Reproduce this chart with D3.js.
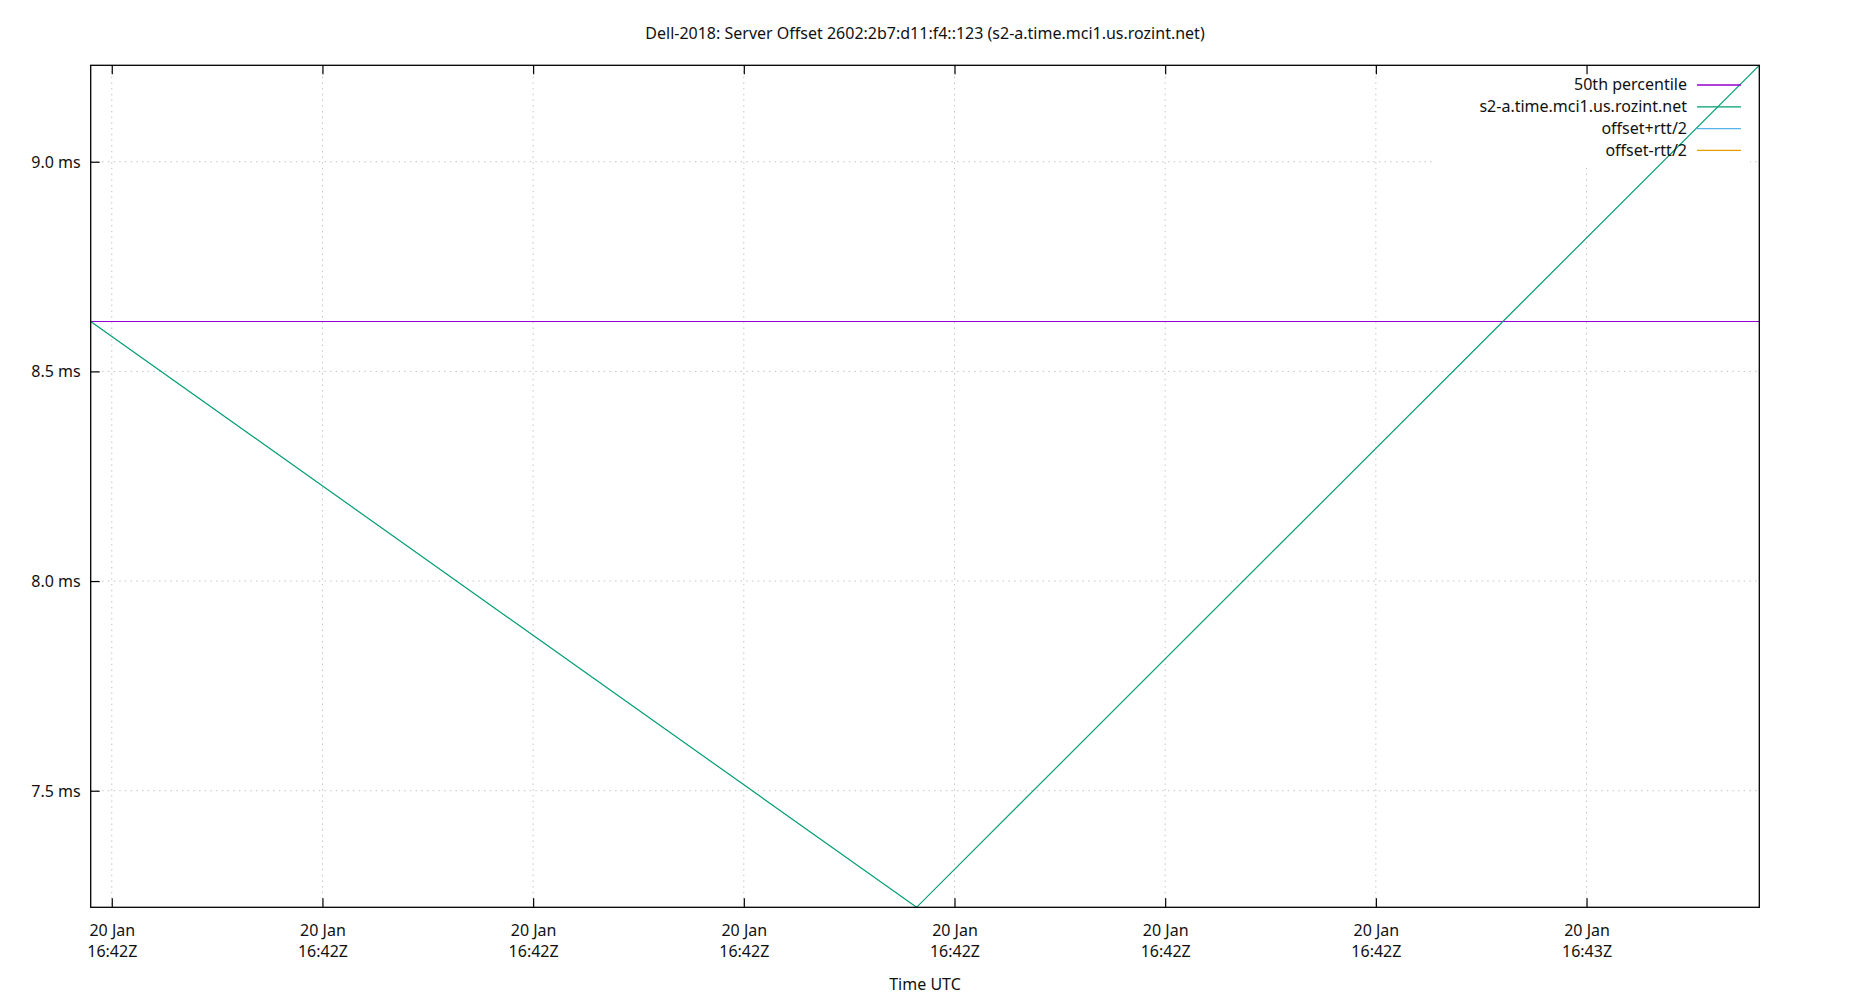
<!DOCTYPE html>
<html lang="en">
<head>
    <meta charset="UTF-8">
    <title>Dell-2018: Server Offset</title>
    <style>
        body { margin: 0; background: #fff; }
        svg text { font-family: "Noto Sans", "Open Sans", sans-serif; font-size: 16px; fill: #111; }
        .grid line { stroke: #c4c4c4; stroke-width: 1; stroke-dasharray: 1.5,4.2; }
        .axis line { stroke: #000; stroke-width: 1.2; }
        .axis path { display: none; }
        .series { fill: none; stroke-width: 1.2; }
    </style>
</head>
<body>
<svg id="chart" width="1850" height="1000"></svg>
<script src="https://d3js.org/d3.v7.min.js"></script>
<script>
// data (times in UTC)
const times = ["2024-01-20T16:42:24.5Z", "2024-01-20T16:42:44.1Z", "2024-01-20T16:43:04.1Z"];
const offsets = [8.619, 7.222, 9.230];          // ms
const median = 8.619;                            // 50th percentile, ms
const xTicks = ["2024-01-20T16:42:25Z", "2024-01-20T16:42:30Z", "2024-01-20T16:42:35Z", "2024-01-20T16:42:40Z",
                "2024-01-20T16:42:45Z", "2024-01-20T16:42:50Z", "2024-01-20T16:42:55Z", "2024-01-20T16:43:00Z"];
const yTicks = [7.5, 8.0, 8.5, 9.0];
const legendItems = ["50th percentile", "s2-a.time.mci1.us.rozint.net", "offset+rtt/2", "offset-rtt/2"];
const legendColors = ["#9400d3", "#009e73", "#56b4e9", "#e69f00"];

const W = 1850, H = 1000;
const m = {left: 90.7, right: 1759.3, top: 65.3, bottom: 907.3};

const svg = d3.select("#chart");
const parse = d3.isoParse;
const pts = times.map((t, i) => ({t: parse(t), v: offsets[i]}));

const x = d3.scaleUtc()
    .domain(d3.extent(pts, d => d.t))
    .range([m.left, m.right]);
const y = d3.scaleLinear()
    .domain(d3.extent(offsets))
    .range([m.bottom, m.top]);

// title
svg.append("text")
    .attr("x", (m.left + m.right) / 2)
    .attr("y", 39)
    .attr("text-anchor", "middle")
    .text("Dell-2018: Server Offset 2602:2b7:d11:f4::123 (s2-a.time.mci1.us.rozint.net)");

// grid
const grid = svg.append("g").attr("class", "grid");
grid.selectAll("line.gx")
    .data(xTicks.map(parse))
    .enter().append("line")
    .attr("x1", d => x(d)).attr("x2", d => x(d))
    .attr("y1", m.top).attr("y2", m.bottom);
grid.selectAll("line.gy")
    .data(yTicks)
    .enter().append("line")
    .attr("x1", m.left).attr("x2", m.right)
    .attr("y1", d => y(d)).attr("y2", d => y(d));

// key background hides the grid behind it
svg.append("rect")
    .attr("x", 1433).attr("y", m.top + 1)
    .attr("width", 317).attr("height", 98)
    .attr("fill", "#fff");

// axes, ticks pointing inward
const fmtDay = d3.utcFormat("%d %b");
const fmtTime = d3.utcFormat("%H:%MZ");

const xAxis = svg.append("g")
    .attr("class", "axis")
    .attr("transform", `translate(0,${m.bottom})`)
    .call(d3.axisBottom(x).tickValues(xTicks.map(parse)).tickSize(-9).tickFormat(""));
xAxis.selectAll(".tick text").each(function(d) {
    const t = d3.select(this).attr("y", null).attr("dy", null);
    t.append("tspan").attr("x", 0).attr("y", 29).text(fmtDay(d));
    t.append("tspan").attr("x", 0).attr("y", 50).text(fmtTime(d));
});

svg.append("g")
    .attr("class", "axis")
    .attr("transform", `translate(0,${m.top})`)
    .call(d3.axisTop(x).tickValues(xTicks.map(parse)).tickSize(-9).tickFormat(""));

svg.append("g")
    .attr("class", "axis")
    .attr("transform", `translate(${m.left},0)`)
    .call(d3.axisLeft(y).tickValues(yTicks).tickSize(-9).tickPadding(10)
        .tickFormat(d => d.toFixed(1) + " ms"))
    .selectAll("text").attr("dy", "0.34em");

// x label
svg.append("text")
    .attr("x", (m.left + m.right) / 2)
    .attr("y", 990)
    .attr("text-anchor", "middle")
    .text("Time UTC");

// median line
svg.append("line")
    .attr("class", "series")
    .attr("x1", m.left).attr("x2", m.right)
    .attr("y1", y(median)).attr("y2", y(median))
    .attr("stroke", legendColors[0]);

// offset series
svg.append("path")
    .datum(pts)
    .attr("class", "series")
    .attr("stroke", legendColors[1])
    .attr("d", d3.line().x(d => x(d.t)).y(d => y(d.v)));

// border
svg.append("rect")
    .attr("x", m.left).attr("y", m.top)
    .attr("width", m.right - m.left).attr("height", m.bottom - m.top)
    .attr("fill", "none").attr("stroke", "#000").attr("stroke-width", 1.3);

// key
const key = svg.append("g");
const rows = key.selectAll("g")
    .data(legendItems)
    .enter().append("g")
    .attr("transform", (d, i) => `translate(0,${85 + i * 21.8})`);
rows.append("text")
    .attr("x", 1687)
    .attr("dy", "0.34em")
    .attr("text-anchor", "end")
    .text(d => d);
rows.append("line")
    .attr("x1", 1697).attr("x2", 1741)
    .attr("stroke", (d, i) => legendColors[i])
    .attr("stroke-width", 1.3);
</script>
</body>
</html>
